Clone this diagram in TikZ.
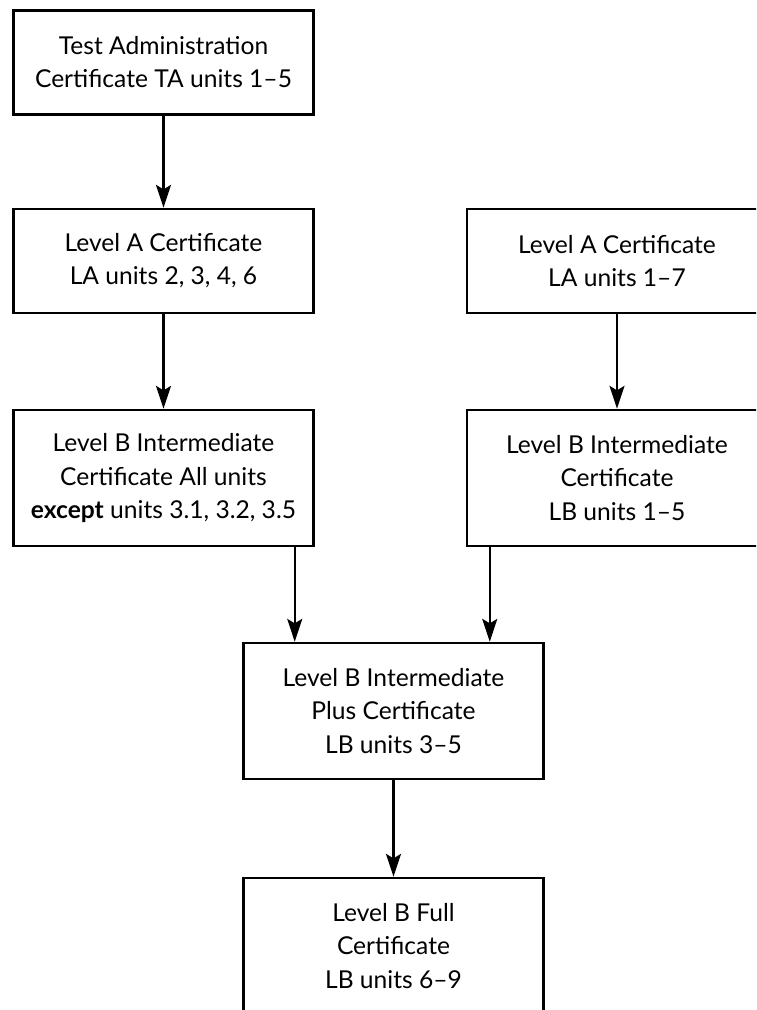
\documentclass[tikz,border=0pt]{standalone}
\usepackage{fontspec}
\setmainfont{Lato}
\usepackage{tikz}
\usetikzlibrary{arrows.meta}

\tikzset{
    certbox/.style={draw, line width=1.4pt, minimum width=6cm, minimum height=2.08cm,
        align=center, inner sep=0pt, font=\fontsize{14pt}{18.8pt}\selectfont},
    tallbox/.style={certbox, minimum height=2.72cm},
    arr/.style={line width=1.3pt, -{Stealth[length=13pt,width=8.5pt,inset=2.5pt]}}
}

\begin{document}
\begin{tikzpicture}
    \clip (0,0) rectangle (15.12,-20.2); % page size of the reference
    \node[certbox] (ta) at (3.27,-1.25) {Test Administration\\Certificate TA units 1--5};
    \node[certbox] (lasome) at (3.27,-5.22) {Level A Certificate\\LA units 2, 3, 4, 6};
    \node[certbox] (laall) at (12.34,-5.22) {Level A Certificate\\LA units 1--7};
    \node[tallbox] (lbexcept) at (3.27,-9.56) {Level B Intermediate\\Certificate All units\\\textbf{except} units 3.1, 3.2, 3.5};
    \node[tallbox] (lbint) at (12.34,-9.56) {Level B Intermediate\\Certificate\\LB units 1--5};
    \node[tallbox] (lbplus) at (7.87,-14.22) {Level B Intermediate\\Plus Certificate\\LB units 3--5};
    \node[tallbox] (lbfull) at (7.87,-18.92) {Level B Full\\Certificate\\LB units 6--9};
    \draw[arr] (ta) -- (lasome); % straight down
    \draw[arr] (lasome) -- (lbexcept);
    \draw[arr] (laall) -- (lbint);
    \draw[arr] ([xshift=-0.4cm]lbexcept.south east) -- ([xshift=-0.4cm]lbexcept.south east |- lbplus.north); % two into one
    \draw[arr] ([xshift=0.48cm]lbint.south west) -- ([xshift=0.48cm]lbint.south west |- lbplus.north);
    \draw[arr] (lbplus) -- (lbfull);
\end{tikzpicture}
\end{document}
